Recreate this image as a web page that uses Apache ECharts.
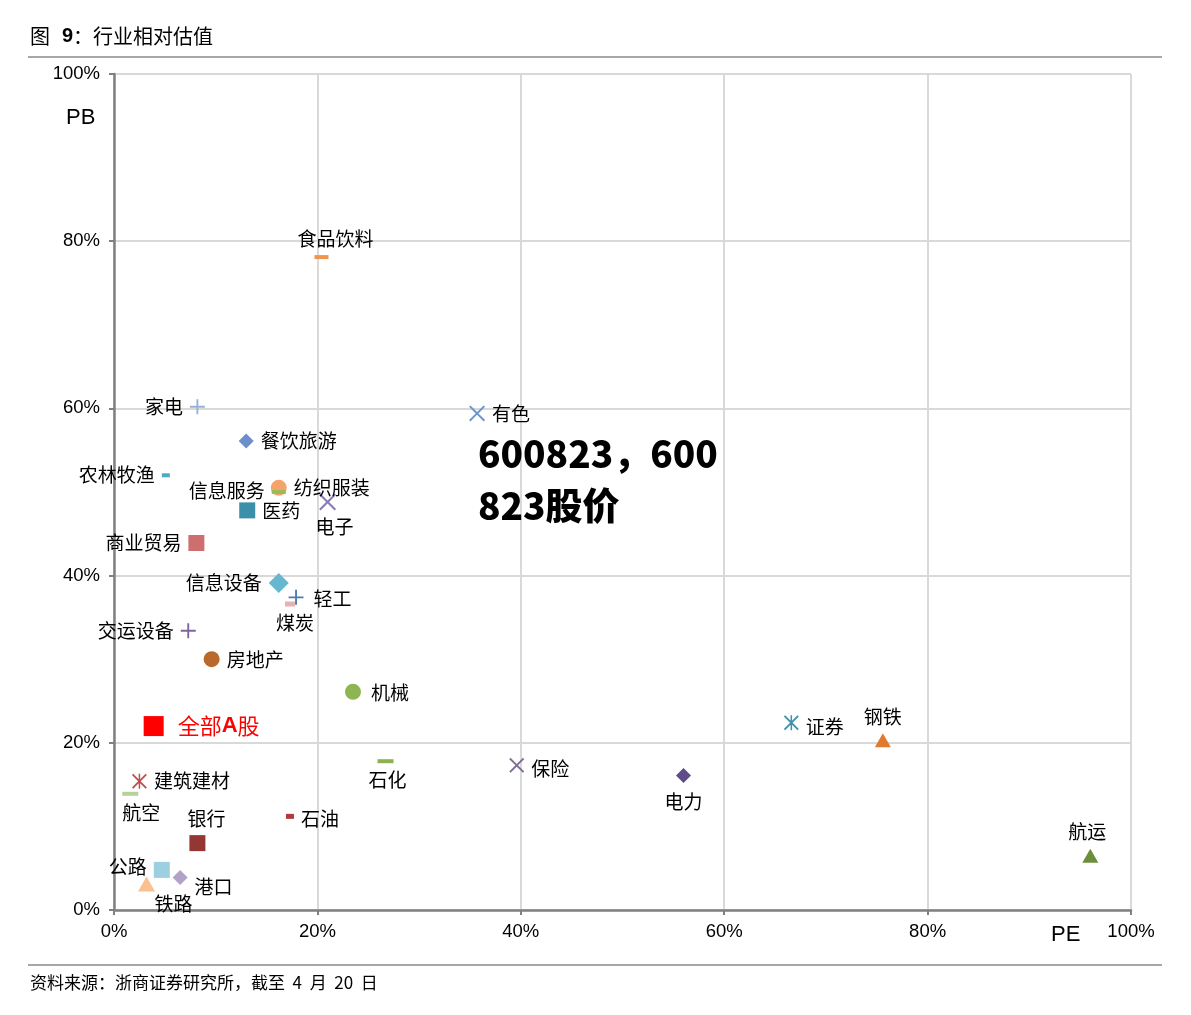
<!DOCTYPE html>
<html><head><meta charset="utf-8">
<script src="https://cdn.jsdelivr.net/npm/echarts@6/dist/echarts.min.js"></script>
<style>html,body{margin:0;padding:0;background:#fff}#c{width:1191px;height:1015px}</style>
</head><body><div id="c"></div>
<script>
// ---- data (PE percentile, PB percentile) ----
const industries = ['食品饮料','家电','有色','餐饮旅游','农林牧渔','纺织服装','信息服务','医药','电子','商业贸易','信息设备','轻工','煤炭','交运设备','房地产','机械','全部A股','证券','钢铁','石化','保险','电力','建筑建材','航空','石油','银行','公路','港口','铁路','航运'];
const peValues = [20.4, 8.2, 35.7, 13.0, 5.1, 16.2, 16.2, 13.1, 21.0, 8.1, 16.2, 17.9, 17.3, 7.3, 9.6, 23.5, 3.9, 66.6, 75.6, 26.7, 39.6, 56.0, 2.5, 1.6, 17.3, 8.2, 4.7, 6.5, 3.2, 96.0];
const pbValues = [78.1, 60.2, 59.4, 56.1, 52.0, 50.5, 50.0, 47.8, 48.8, 43.9, 39.1, 37.4, 36.6, 33.4, 30.0, 26.1, 22.0, 22.4, 20.3, 17.8, 17.3, 16.1, 15.4, 13.9, 11.2, 8.0, 4.8, 3.9, 3.1, 6.5];
const xTicks = [0, 20, 40, 60, 80, 100];
const yTicks = [0, 20, 40, 60, 80, 100];

// ---- styles ----
const P_PLUS = 'path://M7,0H9V7H16V9H9V16H7V9H0V7H7Z';
const P_X = 'path://M1.4,0L8,6.6L14.6,0L16,1.4L9.4,8L16,14.6L14.6,16L8,9.4L1.4,16L0,14.6L6.6,8L0,1.4Z';
const P_AST = 'path://M1.4,0L8,6.6L14.6,0L16,1.4L9.4,8L16,14.6L14.6,16L8,9.4L1.4,16L0,14.6L6.6,8L0,1.4Z M7.2,0H8.8V16H7.2Z';
const styles = [
  ['rect', [14,4], '#F0954E', 'top', [14,0]],
  [P_PLUS, [15,15], '#95B3D7', 'left', [0,0]],
  [P_X, [16,16], '#6D95C9', 'right', [0,0]],
  ['diamond', [15,15], '#6C8EC9', 'right', [0,0]],
  ['rect', [8,4], '#4BACC6', 'left', [0,0]],
  ['circle', [16,16], '#F5A26B', 'right', [0,0]],
  ['rect', [14,4], '#9BBB59', 'left', [0,-1]],
  ['rect', [16,16], '#3B8FA9', 'right', [0,0]],
  [P_X, [17,17], '#8C7BB0', 'bottom', [7,0]],
  ['rect', [16,16], '#CF6E6E', 'left', [0,0]],
  ['diamond', [20,20], '#67B7D1', 'left', [0,0]],
  [P_PLUS, [15,15], '#4F7BAF', 'right', [3,1]],
  ['rect', [10,5], '#E6B0B5', 'bottom', [5,0]],
  [P_PLUS, [15,15], '#8064A2', 'left', [0,0]],
  ['circle', [16,16], '#B8692B', 'right', [0,1]],
  ['circle', [16,16], '#8DB554', 'right', [3,1]],
  ['rect', [20,20], '#FF0000', 'right', [0,0]],
  [P_AST, [15,15], '#3E92A8', 'right', [0,4]],
  ['triangle', [16,14], '#E07A2C', 'top', [0,0]],
  ['rect', [16,4], '#8EB050', 'bottom', [2,0]],
  [P_X, [15,15], '#7E6E96', 'right', [0,3]],
  ['diamond', [15,15], '#5F4B8B', 'bottom', [0,2]],
  [P_AST, [15,15], '#C0504D', 'right', [0,0]],
  ['rect', [16,4], '#B8D198', 'bottom', [11,0]],
  ['rect', [8,5], '#B03A3A', 'right', [0,2]],
  ['rect', [16,16], '#943634', 'top', [9,0]],
  ['rect', [16,16], '#9CCFE0', 'left', [0,-3]],
  ['diamond', [15,15], '#B2A2C7', 'right', [0,9]],
  ['triangle', [17,15], '#FAC090', 'bottom', [27,-4]],
  ['triangle', [16,14], '#6B8E3A', 'top', [-3,0]]
];

const data = industries.map((n, i) => {
  const s = styles[i];
  const isAll = n === '全部A股';
  return {
    name: n,
    value: [peValues[i], pbValues[i]],
    symbol: s[0],
    symbolSize: s[1],
    itemStyle: { color: s[2], opacity: 1 },
    label: isAll ? {
      show: true, position: s[3], offset: s[4], distance: 14,
      formatter: '{a|全部}{b|A}{a|股}',
      rich: {
        a: { color: '#FF0000', fontSize: 22, fontFamily: 'Noto Sans CJK SC' },
        b: { color: '#FF0000', fontSize: 22, fontFamily: 'Liberation Sans', fontWeight: 'bold' }
      }
    } : {
      show: true, position: s[3], offset: s[4], distance: 7,
      formatter: '{b}',
      color: '#000',
      fontSize: 19,
      fontFamily: 'Noto Sans CJK SC'
    }
  };
});

const axisCommon = {
  type: 'value', min: 0, max: 100, interval: 20,
  axisLine: { show: true, lineStyle: { color: '#808080', width: 2.5 } },
  axisTick: { show: true, length: 5, lineStyle: { color: '#808080', width: 2 } },
  splitLine: { show: true, lineStyle: { color: '#D9D9D9', width: 2 } },
  axisLabel: { formatter: '{value}%', color: '#000', fontSize: 18.5, fontFamily: 'Liberation Sans' }
};

const chart = echarts.init(document.getElementById('c'), null, { renderer: 'canvas' });
chart.setOption({
  backgroundColor: '#fff',
  animation: false,
  grid: { left: 114, right: 60, top: 74, bottom: 105 },
  xAxis: Object.assign({}, axisCommon, { axisLabel: Object.assign({}, axisCommon.axisLabel, { margin: 12 }) }),
  yAxis: Object.assign({}, axisCommon, { axisLabel: Object.assign({}, axisCommon.axisLabel, { margin: 14 }) }),
  series: [{ type: 'scatter', data: data, z: 3 }],
  graphic: [
    { type: 'text', left: 30, top: 26, style: { text: '{a|图}{s| }{b|9}{a|：行业相对估值}', rich: {
      a: { fontSize: 20, fontFamily: 'Noto Sans CJK SC', fill: '#000', fontWeight: 'normal' },
      s: { fontSize: 20, width: 12 },
      b: { fontSize: 20, fontFamily: 'Liberation Sans', fill: '#000', fontWeight: 'bold' } } } },
    { type: 'line', shape: { x1: 28, y1: 57, x2: 1162, y2: 57 }, style: { stroke: '#8a8a8a', lineWidth: 1.5 } },
    { type: 'line', shape: { x1: 28, y1: 965, x2: 1162, y2: 965 }, style: { stroke: '#8a8a8a', lineWidth: 1.5 } },
    { type: 'text', left: 30, top: 974, style: { text: '资料来源：浙商证券研究所，截至  4  月  20  日', fontSize: 17, fontFamily: 'Noto Sans CJK SC', fill: '#000' } },
    { type: 'text', left: 66, top: 107, style: { text: 'PB', fontSize: 22, fontFamily: 'Liberation Sans', fill: '#000' } },
    { type: 'text', left: 1051, top: 924, style: { text: 'PE', fontSize: 22, fontFamily: 'Liberation Sans', fill: '#000' } },
    { type: 'text', left: 478, top: 428, z: 10, style: { text: '600823，600\n823股价', fontSize: 37, lineHeight: 52, fontWeight: 900, fontFamily: 'Noto Sans CJK SC', fill: '#000' } }
  ]
});
</script></body></html>
